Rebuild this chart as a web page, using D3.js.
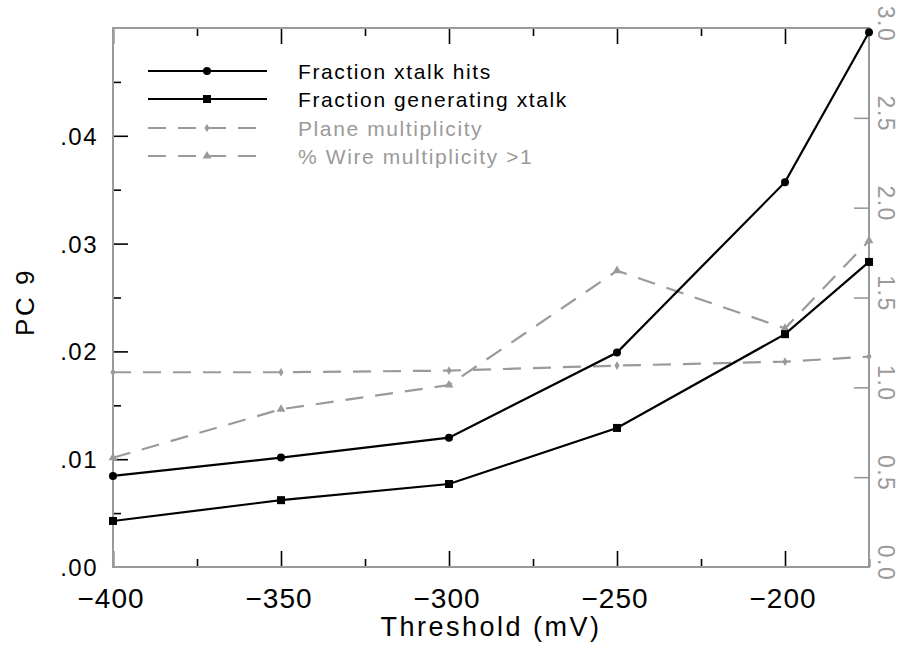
<!DOCTYPE html>
<html lang="en">
<head>
  <meta charset="UTF-8">
  <title>PC 9 crosstalk vs threshold</title>
  <script src="https://d3js.org/d3.v7.min.js"></script>
  <style>
    html, body { margin: 0; padding: 0; background: #fff; overflow: hidden; }
    svg { display: block; }
    text { font-family: "Liberation Sans", Arial, sans-serif; }
  </style>
</head>
<body>
  <svg width="903" height="649" id="chart"></svg>
  <script>
    // data
    const thresholds = [-400, -350, -300, -250, -200, -175];
    const xtalkHits = [0.00845, 0.01015, 0.0120, 0.0199, 0.0357, 0.0496];
    const genXtalk = [0.00427, 0.0062, 0.0077, 0.0129, 0.0216, 0.0283];
    const planeMult = [1.084, 1.084, 1.093, 1.121, 1.143, 1.171];
    const wireMult = [0.608, 0.878, 1.013, 1.649, 1.328, 1.816];

    const xTicks = [-400, -350, -300, -250, -200];
    const xMinor = [-375, -325, -275, -225, -175];
    const leftTicks = [0, 0.01, 0.02, 0.03, 0.04];
    const leftMinor = [0.005, 0.015, 0.025, 0.035, 0.045];
    const rightTicks = [0, 0.5, 1, 1.5, 2, 2.5, 3];

    const gray = '#9a9a9a';

    const svg = d3.select('#chart');
    const margin = { top: 28, right: 34, bottom: 82, left: 113 };
    const innerWidth = +svg.attr('width') - margin.left - margin.right;
    const innerHeight = +svg.attr('height') - margin.top - margin.bottom;

    const x = d3.scaleLinear().domain([-400, -175]).range([0, innerWidth]);
    const yL = d3.scaleLinear().domain([0, 0.05]).range([innerHeight, 0]);
    const yR = d3.scaleLinear().domain([0, 3]).range([innerHeight, 0]);

    const g = svg.append('g').attr('transform', `translate(${margin.left},${margin.top})`);

    // tick marks (all pointing inward)
    function ticks(axis, values, size, color) {
      const a = g.append('g')
        .call(axis.tickValues(values).tickSizeInner(-size).tickSizeOuter(0));
      a.select('.domain').remove();
      a.selectAll('text').remove();
      a.selectAll('line').attr('stroke', color).attr('stroke-width', 1.6);
      return a;
    }
    ticks(d3.axisBottom(x), xTicks, 16, '#000').attr('transform', `translate(0,${innerHeight})`);
    ticks(d3.axisBottom(x), xMinor, 8, '#000').attr('transform', `translate(0,${innerHeight})`);
    ticks(d3.axisTop(x), xTicks, 16, '#000');
    ticks(d3.axisTop(x), xMinor, 8, '#000');
    ticks(d3.axisLeft(yL), leftTicks.slice(1), 15, '#000');
    ticks(d3.axisLeft(yL), leftMinor, 8, '#000');
    ticks(d3.axisRight(yR), rightTicks.slice(1, -1), 15, gray).attr('transform', `translate(${innerWidth},0)`);

    // frame
    g.append('rect')
      .attr('width', innerWidth).attr('height', innerHeight)
      .attr('fill', 'none').attr('stroke', gray).attr('stroke-width', 2);

    // tick labels
    const leftFmt = d3.format('.2f');
    g.selectAll('.ylab').data(leftTicks).join('text')
      .attr('x', -15).attr('y', d => yL(d) + 9)
      .attr('text-anchor', 'end')
      .attr('font-size', 24).attr('letter-spacing', 1.5)
      .text(d => leftFmt(d).replace(/^0/, ''));

    g.selectAll('.xlab').data(xTicks).join('text')
      .attr('x', d => x(d) - 2).attr('y', innerHeight + 41)
      .attr('text-anchor', 'middle')
      .attr('font-size', 28).attr('letter-spacing', 1)
      .text(d3.format('d'));

    g.selectAll('.rlab').data(rightTicks).join('text')
      .attr('transform', d => `translate(${innerWidth + 9},${yR(d) - 4}) rotate(90)`)
      .attr('text-anchor', 'middle')
      .attr('font-size', 23).attr('letter-spacing', 1.5)
      .attr('fill', gray)
      .text(d3.format('.1f'));

    // axis titles
    g.append('text')
      .attr('x', 378).attr('y', innerHeight + 69)
      .attr('text-anchor', 'middle')
      .attr('font-size', 27).attr('letter-spacing', 2.5)
      .text('Threshold (mV)');

    g.append('text')
      .attr('transform', `translate(${34 - margin.left},${302 - margin.top}) rotate(-90)`)
      .attr('text-anchor', 'middle')
      .attr('font-size', 26).attr('letter-spacing', 2.5)
      .text('PC 9');

    // series
    const series = [
      { name: 'Fraction xtalk hits', values: xtalkHits, y: yL, color: '#000', dash: null, marker: 'circle' },
      { name: 'Fraction generating xtalk', values: genXtalk, y: yL, color: '#000', dash: null, marker: 'square' },
      { name: 'Plane multiplicity', values: planeMult, y: yR, color: gray, dash: '18,12', marker: 'diamond' },
      { name: '% Wire multiplicity >1', values: wireMult, y: yR, color: gray, dash: '18,12', marker: 'triangle' },
    ];

    function drawMarker(sel, type, color) {
      if (type === 'circle') {
        sel.append('circle').attr('r', 4).attr('fill', color);
      } else if (type === 'square') {
        sel.append('rect').attr('x', -4).attr('y', -4).attr('width', 8).attr('height', 8).attr('fill', color);
      } else if (type === 'diamond') {
        sel.append('path').attr('d', d3.symbol(d3.symbolDiamond, 22)()).attr('fill', color);
      } else {
        sel.append('path').attr('d', d3.symbol(d3.symbolTriangle, 34)()).attr('fill', color);
      }
    }

    series.slice().reverse().forEach(s => {
      const pts = thresholds.map((t, i) => [x(t), s.y(s.values[i])]);
      g.append('path')
        .attr('d', d3.line()(pts))
        .attr('fill', 'none')
        .attr('stroke', s.color)
        .attr('stroke-width', 2.2)
        .attr('stroke-dasharray', s.dash);
      pts.forEach(p => {
        drawMarker(g.append('g').attr('transform', `translate(${p[0]},${p[1]})`), s.marker, s.color);
      });
    });

    // legend
    const legend = g.append('g').attr('transform', 'translate(35,43)');
    series.forEach((s, i) => {
      const row = legend.append('g').attr('transform', `translate(0,${[0, 28, 57, 85][i]})`);
      row.append('line')
        .attr('x1', 0).attr('x2', 119)
        .attr('stroke', s.color).attr('stroke-width', 2.2)
        .attr('stroke-dasharray', s.dash);
      drawMarker(row.append('g').attr('transform', 'translate(59,0)'), s.marker, s.color);
      row.append('text')
        .attr('x', 150).attr('y', 8)
        .attr('font-size', 21).attr('letter-spacing', 1.6)
        .attr('fill', s.color)
        .text(s.name);
    });
  </script>
</body>
</html>
